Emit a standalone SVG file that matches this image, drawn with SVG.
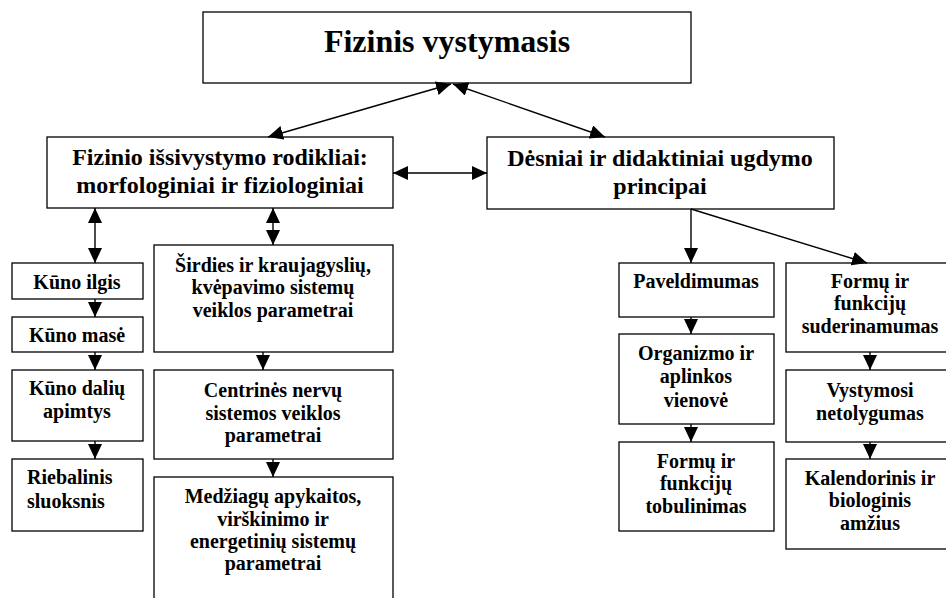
<svg xmlns="http://www.w3.org/2000/svg" width="946" height="598" viewBox="0 0 946 598">
<style>
  rect { fill: #fff; stroke: #000; stroke-width: 1.3; }
  text { font-family: 'Liberation Serif', 'DejaVu Serif', serif; font-weight: bold; fill: #000; text-anchor: middle; }
  .t32 { font-size: 32px; }
  .t24 { font-size: 24px; }
  .t20 { font-size: 20px; }
  .l { text-anchor: start; }
  .c line { stroke: #000; stroke-width: 1.4; }
  .a { marker-end: url(#ah); }
  .d { marker-start: url(#ah); marker-end: url(#ah); }
</style>
<defs>
  <marker id="ah" markerUnits="userSpaceOnUse" markerWidth="15" markerHeight="14" refX="15" refY="7" orient="auto-start-reverse" viewBox="0 0 15 14">
    <path d="M0,0 L15,7 L0,14 z" fill="#000"/>
  </marker>
</defs>
<g font-family="Liberation Serif, DejaVu Serif, serif">
<g id="n-top"><rect x="203" y="12" width="488" height="71"/><text class="t32" x="447" y="52">Fizinis vystymasis</text></g>
<g id="n-rodikliai"><rect x="47" y="137" width="346" height="71"/><text class="t24" x="220" y="165">Fizinio išsivystymo rodikliai:</text><text class="t24" x="220" y="193">morfologiniai ir fiziologiniai</text></g>
<g id="n-desniai"><rect x="487" y="137" width="347" height="72"/><text class="t24" x="660" y="166">Dėsniai ir didaktiniai ugdymo</text><text class="t24" x="660" y="194">principai</text></g>
<g id="n-ilgis"><rect x="12" y="263" width="131" height="36"/><text class="t20" x="77" y="289">Kūno ilgis</text></g>
<g id="n-mase"><rect x="12" y="317" width="131" height="35"/><text class="t20" x="77" y="342">Kūno masė</text></g>
<g id="n-daliu"><rect x="12" y="370" width="131" height="71"/><text class="t20" x="77" y="395">Kūno dalių</text><text class="t20" x="77" y="418">apimtys</text></g>
<g id="n-riebalinis"><rect x="12" y="459" width="131" height="72"/><text class="t20 l" x="27" y="484">Riebalinis</text><text class="t20 l" x="27" y="508">sluoksnis</text></g>
<g id="n-sirdies"><rect x="154" y="245" width="239" height="107"/><text class="t20" x="273" y="272">Širdies ir kraujagyslių,</text><text class="t20" x="273" y="294">kvėpavimo sistemų</text><text class="t20" x="273" y="317">veiklos parametrai</text></g>
<g id="n-centrines"><rect x="154" y="370" width="239" height="89"/><text class="t20" x="273" y="397">Centrinės nervų</text><text class="t20" x="273" y="420">sistemos veiklos</text><text class="t20" x="273" y="442">parametrai</text></g>
<g id="n-medziagu"><rect x="154" y="477" width="239" height="130"/><text class="t20" x="273" y="503">Medžiagų apykaitos,</text><text class="t20" x="273" y="526">virškinimo ir</text><text class="t20" x="273" y="548">energetinių sistemų</text><text class="t20" x="273" y="570">parametrai</text></g>
<g id="n-paveldimumas"><rect x="619" y="263" width="155" height="54"/><text class="t20" x="696" y="288">Paveldimumas</text></g>
<g id="n-organizmo"><rect x="619" y="334" width="155" height="90"/><text class="t20" x="696" y="360">Organizmo ir</text><text class="t20" x="696" y="383">aplinkos</text><text class="t20" x="696" y="407">vienovė</text></g>
<g id="n-tobulinimas"><rect x="619" y="442" width="155" height="89"/><text class="t20" x="696" y="468">Formų ir</text><text class="t20" x="696" y="490">funkcijų</text><text class="t20" x="696" y="513">tobulinimas</text></g>
<g id="n-suderinamumas"><rect x="786" y="263" width="170" height="89"/><text class="t20" x="870" y="288">Formų ir</text><text class="t20" x="870" y="310">funkcijų</text><text class="t20" x="870" y="333">suderinamumas</text></g>
<g id="n-netolygumas"><rect x="786" y="370" width="170" height="72"/><text class="t20" x="870" y="397">Vystymosi</text><text class="t20" x="870" y="420">netolygumas</text></g>
<g id="n-amzius"><rect x="786" y="459" width="170" height="90"/><text class="t20" x="870" y="485">Kalendorinis ir</text><text class="t20" x="870" y="507">biologinis</text><text class="t20" x="870" y="530">amžius</text></g>
</g>
<g id="connectors" class="c">
  <line class="d" x1="451" y1="84" x2="268" y2="137"/>
  <line class="d" x1="453" y1="84" x2="605" y2="137"/>
  <line class="d" x1="393" y1="173" x2="487" y2="173"/>
  <line class="d" x1="95" y1="208" x2="95" y2="263"/>
  <line class="d" x1="273" y1="208" x2="273" y2="245"/>
  <line class="a" x1="691" y1="209" x2="691" y2="263"/>
  <line class="a" x1="691" y1="209" x2="867" y2="263"/>
  <line class="a" x1="95" y1="299" x2="95" y2="317"/>
  <line class="a" x1="95" y1="352" x2="95" y2="370"/>
  <line class="a" x1="95" y1="441" x2="95" y2="459"/>
  <line class="a" x1="263" y1="352" x2="263" y2="370"/>
  <line class="a" x1="273" y1="459" x2="273" y2="477"/>
  <line class="a" x1="691" y1="317" x2="691" y2="334"/>
  <line class="a" x1="691" y1="424" x2="691" y2="442"/>
  <line class="a" x1="870" y1="352" x2="870" y2="370"/>
  <line class="a" x1="870" y1="442" x2="870" y2="459"/>
</g>
</svg>
